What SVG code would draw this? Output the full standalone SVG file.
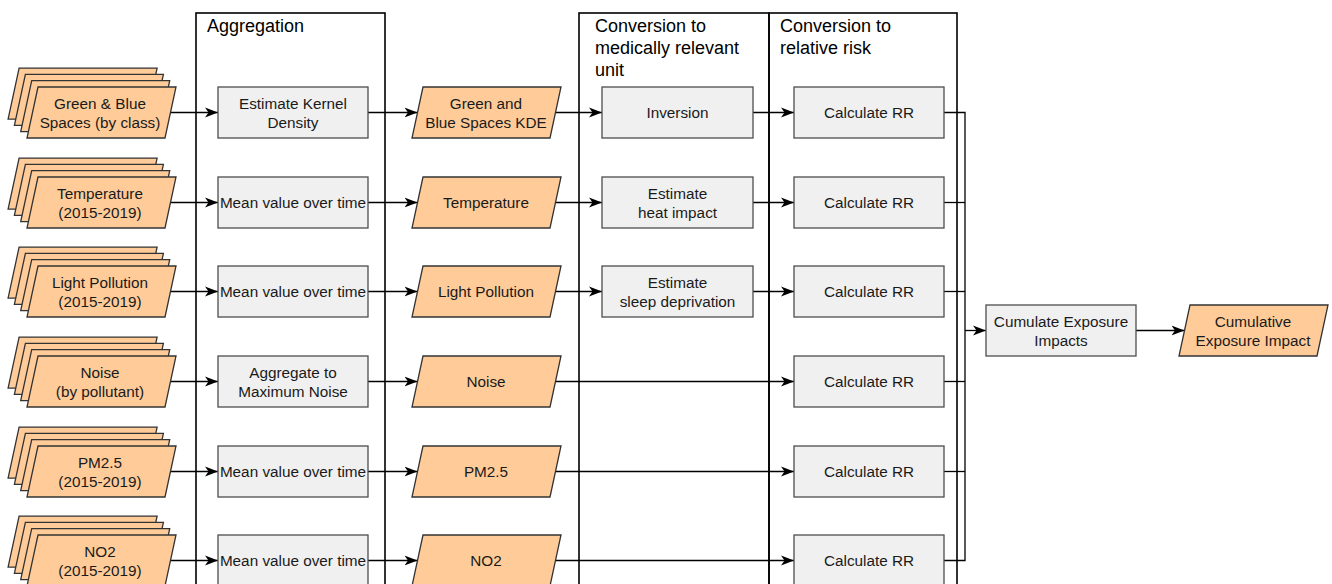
<svg xmlns="http://www.w3.org/2000/svg" xmlns:xlink="http://www.w3.org/1999/xlink" width="1332" height="584" viewBox="0 0 1332 584">
<style>
.lane{fill:none;stroke:#000;stroke-width:1.6}
.hdr{font-family:"Liberation Sans",Arial,sans-serif;font-size:18px;fill:#000}
.box{fill:#f0f0f0;stroke:#4d4d4d;stroke-width:1.3}
.para{fill:#ffcc99;stroke:#333;stroke-width:1.3}
.t{font-family:"Liberation Sans",Arial,sans-serif;font-size:15.3px;fill:#1a1a1a;text-anchor:middle}
.c{fill:none;stroke:#000;stroke-width:1.3}
.a{marker-end:url(#arr)}
</style>
<defs>
<marker id="arr" markerUnits="userSpaceOnUse" markerWidth="14" markerHeight="11" refX="13" refY="5.5" orient="auto">
<path d="M0,0.5 L13,5.5 L0,10.5 L3.5,5.5 z" fill="#000"/>
</marker>
<polygon id="pg" points="11,0 149,0 138,51 0,51"/>
<g id="stack" class="para">
<use href="#pg" x="-18.9" y="-18.9"/>
<use href="#pg" x="-12.6" y="-12.6"/>
<use href="#pg" x="-6.3" y="-6.3"/>
<use href="#pg" x="0" y="0"/>
</g>
</defs>

<g id="lanes">
<rect class="lane" x="196" y="13" width="189" height="600"/>
<text class="hdr" x="207" y="32">Aggregation</text>
<rect class="lane" x="579" y="13" width="190" height="600"/>
<text class="hdr" x="595" y="32">Conversion to</text>
<text class="hdr" x="595" y="54">medically relevant</text>
<text class="hdr" x="595" y="76">unit</text>
<rect class="lane" x="769" y="13" width="188" height="600"/>
<text class="hdr" x="780" y="32">Conversion to</text>
<text class="hdr" x="780" y="54">relative risk</text>
</g>

<g id="connectors">
<line class="c a" x1="170.5" y1="112.5" x2="218" y2="112.5"/>
<line class="c a" x1="170.5" y1="202.5" x2="218" y2="202.5"/>
<line class="c a" x1="170.5" y1="291.5" x2="218" y2="291.5"/>
<line class="c a" x1="170.5" y1="381.5" x2="218" y2="381.5"/>
<line class="c a" x1="170.5" y1="471.5" x2="218" y2="471.5"/>
<line class="c a" x1="170.5" y1="560.5" x2="218" y2="560.5"/>
<line class="c a" x1="368" y1="112.5" x2="417.5" y2="112.5"/>
<line class="c a" x1="368" y1="202.5" x2="417.5" y2="202.5"/>
<line class="c a" x1="368" y1="291.5" x2="417.5" y2="291.5"/>
<line class="c a" x1="368" y1="381.5" x2="417.5" y2="381.5"/>
<line class="c a" x1="368" y1="471.5" x2="417.5" y2="471.5"/>
<line class="c a" x1="368" y1="560.5" x2="417.5" y2="560.5"/>
<line class="c a" x1="555.5" y1="112.5" x2="602" y2="112.5"/>
<line class="c a" x1="555.5" y1="202.5" x2="602" y2="202.5"/>
<line class="c a" x1="555.5" y1="291.5" x2="602" y2="291.5"/>
<line class="c a" x1="555.5" y1="381.5" x2="794" y2="381.5"/>
<line class="c a" x1="555.5" y1="471.5" x2="794" y2="471.5"/>
<line class="c a" x1="555.5" y1="560.5" x2="794" y2="560.5"/>
<line class="c a" x1="753" y1="112.5" x2="794" y2="112.5"/>
<line class="c a" x1="753" y1="202.5" x2="794" y2="202.5"/>
<line class="c a" x1="753" y1="291.5" x2="794" y2="291.5"/>
<polyline class="c" points="944,112.5 965,112.5 965,560.5 944,560.5"/>
<line class="c" x1="944" y1="202.5" x2="965" y2="202.5"/>
<line class="c" x1="944" y1="291.5" x2="965" y2="291.5"/>
<line class="c" x1="944" y1="381.5" x2="965" y2="381.5"/>
<line class="c" x1="944" y1="471.5" x2="965" y2="471.5"/>
<line class="c a" x1="965" y1="330.5" x2="986" y2="330.5"/>
<line class="c a" x1="1136" y1="330.5" x2="1184.5" y2="330.5"/>
</g>

<g id="in-greenblue"><use href="#stack" x="27" y="87"/><text class="t" x="100" y="109">Green &amp; Blue</text><text class="t" x="100" y="128">Spaces (by class)</text></g>
<g id="in-temperature"><use href="#stack" x="27" y="177"/><text class="t" x="100" y="199">Temperature</text><text class="t" x="100" y="218">(2015-2019)</text></g>
<g id="in-light"><use href="#stack" x="27" y="266"/><text class="t" x="100" y="288">Light Pollution</text><text class="t" x="100" y="307">(2015-2019)</text></g>
<g id="in-noise"><use href="#stack" x="27" y="356"/><text class="t" x="100" y="378">Noise</text><text class="t" x="100" y="397">(by pollutant)</text></g>
<g id="in-pm25"><use href="#stack" x="27" y="446"/><text class="t" x="100" y="468">PM2.5</text><text class="t" x="100" y="487">(2015-2019)</text></g>
<g id="in-no2"><use href="#stack" x="27" y="535"/><text class="t" x="100" y="557">NO2</text><text class="t" x="100" y="576">(2015-2019)</text></g>

<g id="agg-kde"><rect class="box" x="218" y="87" width="150" height="51"/><text class="t" x="293" y="109">Estimate Kernel</text><text class="t" x="293" y="128">Density</text></g>
<g id="agg-temp"><rect class="box" x="218" y="177" width="150" height="51"/><text class="t" x="293" y="208">Mean value over time</text></g>
<g id="agg-light"><rect class="box" x="218" y="266" width="150" height="51"/><text class="t" x="293" y="297">Mean value over time</text></g>
<g id="agg-noise"><rect class="box" x="218" y="356" width="150" height="51"/><text class="t" x="293" y="378">Aggregate to</text><text class="t" x="293" y="397">Maximum Noise</text></g>
<g id="agg-pm25"><rect class="box" x="218" y="446" width="150" height="51"/><text class="t" x="293" y="477">Mean value over time</text></g>
<g id="agg-no2"><rect class="box" x="218" y="535" width="150" height="51"/><text class="t" x="293" y="566">Mean value over time</text></g>

<g id="p-kde"><use class="para" href="#pg" x="412" y="87"/><text class="t" x="486" y="109">Green and</text><text class="t" x="486" y="128">Blue Spaces KDE</text></g>
<g id="p-temp"><use class="para" href="#pg" x="412" y="177"/><text class="t" x="486" y="208">Temperature</text></g>
<g id="p-light"><use class="para" href="#pg" x="412" y="266"/><text class="t" x="486" y="297">Light Pollution</text></g>
<g id="p-noise"><use class="para" href="#pg" x="412" y="356"/><text class="t" x="486" y="387">Noise</text></g>
<g id="p-pm25"><use class="para" href="#pg" x="412" y="446"/><text class="t" x="486" y="477">PM2.5</text></g>
<g id="p-no2"><use class="para" href="#pg" x="412" y="535"/><text class="t" x="486" y="566">NO2</text></g>

<g id="c-inversion"><rect class="box" x="602" y="87" width="151" height="51"/><text class="t" x="677.5" y="118">Inversion</text></g>
<g id="c-heat"><rect class="box" x="602" y="177" width="151" height="51"/><text class="t" x="677.5" y="199">Estimate</text><text class="t" x="677.5" y="218">heat impact</text></g>
<g id="c-sleep"><rect class="box" x="602" y="266" width="151" height="51"/><text class="t" x="677.5" y="288">Estimate</text><text class="t" x="677.5" y="307">sleep deprivation</text></g>

<g id="rr1"><rect class="box" x="794" y="87" width="150" height="51"/><text class="t" x="869" y="118">Calculate RR</text></g>
<g id="rr2"><rect class="box" x="794" y="177" width="150" height="51"/><text class="t" x="869" y="208">Calculate RR</text></g>
<g id="rr3"><rect class="box" x="794" y="266" width="150" height="51"/><text class="t" x="869" y="297">Calculate RR</text></g>
<g id="rr4"><rect class="box" x="794" y="356" width="150" height="51"/><text class="t" x="869" y="387">Calculate RR</text></g>
<g id="rr5"><rect class="box" x="794" y="446" width="150" height="51"/><text class="t" x="869" y="477">Calculate RR</text></g>
<g id="rr6"><rect class="box" x="794" y="535" width="150" height="51"/><text class="t" x="869" y="566">Calculate RR</text></g>

<g id="cumulate"><rect class="box" x="986" y="305" width="150" height="51"/><text class="t" x="1061" y="327">Cumulate Exposure</text><text class="t" x="1061" y="346">Impacts</text></g>
<g id="cumulative"><use class="para" href="#pg" x="1179" y="305"/><text class="t" x="1253" y="327">Cumulative</text><text class="t" x="1253" y="346">Exposure Impact</text></g>
</svg>
